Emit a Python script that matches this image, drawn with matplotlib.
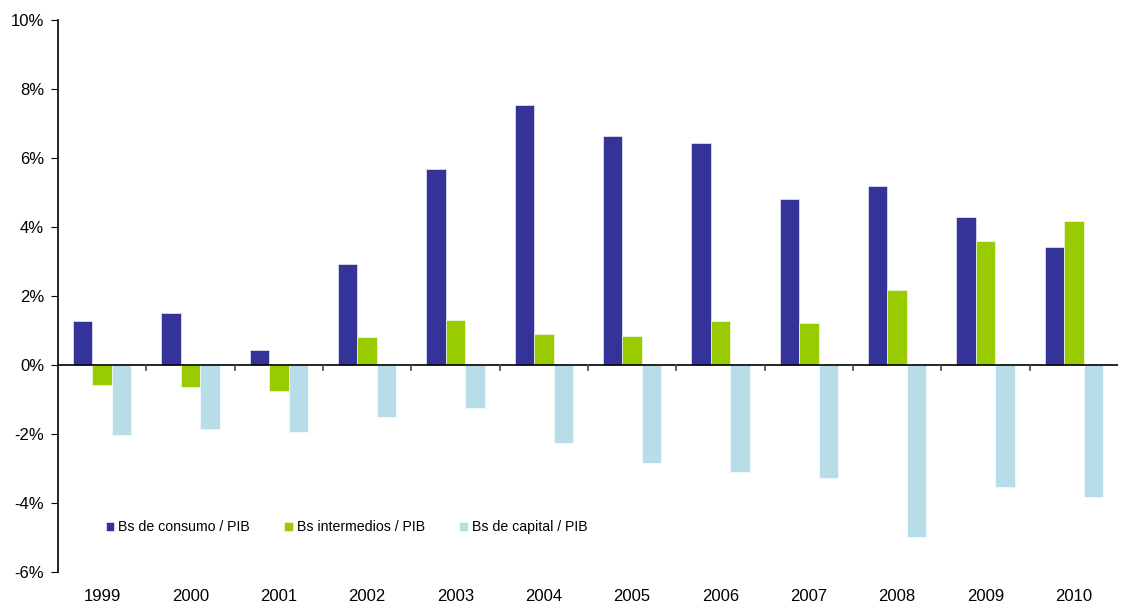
import numpy as np
import matplotlib.pyplot as plt
from matplotlib.ticker import FuncFormatter

plt.rcParams['font.family'] = ['Liberation Sans', 'DejaVu Sans']

years = ['1999', '2000', '2001', '2002', '2003', '2004', '2005', '2006', '2007', '2008', '2009', '2010']
consumo = [1.28, 1.51, 0.44, 2.94, 5.67, 7.53, 6.63, 6.42, 4.80, 5.20, 4.30, 3.43]
intermedios = [-0.58, -0.64, -0.76, 0.81, 1.31, 0.90, 0.84, 1.28, 1.22, 2.18, 3.58, 4.16]
capital = [-2.03, -1.86, -1.95, -1.51, -1.25, -2.27, -2.85, -3.11, -3.28, -5.00, -3.55, -3.84]

labels = ['Bs de consumo / PIB', 'Bs intermedios / PIB', 'Bs de capital / PIB']
colors = ['#333399', '#99CC00', '#B7DDE8']

fig = plt.figure(figsize=(11.22, 6.04), dpi=100)
ax = fig.add_axes([0.0517, 0.053, 0.9447, 0.914])

x = np.arange(len(years))
w = 0.22
for i, (vals, lab, c) in enumerate(zip([consumo, intermedios, capital], labels, colors)):
    ax.bar(x + (i - 1) * w, vals, w, color=c, label=lab, edgecolor='white', linewidth=0.4)

ax.set_xlim(-0.5, len(years) - 0.5)
ax.set_ylim(-6, 10)
ax.set_yticks(np.arange(-6, 11, 2))
ax.yaxis.set_major_formatter(FuncFormatter(lambda v, p: '%d%%' % v))
ax.tick_params(axis='y', direction='out', length=5, labelsize=12, pad=5)

# zero line with category separator ticks
ax.axhline(0, color='black', linewidth=1.2)
for b in np.arange(0.5, len(years) - 0.5, 1):
    ax.plot([b, b], [0, -0.15], color='#444444', linewidth=1.2)

ax.set_xticks(x)
ax.set_xticklabels(years, fontsize=12)
ax.tick_params(axis='x', length=0, pad=12)

for s in ['top', 'right', 'bottom']:
    ax.spines[s].set_visible(False)
ax.spines['left'].set_linewidth(1.2)

ax.legend(loc='lower left', bbox_to_anchor=(0.033, 0.045), ncol=3, frameon=False,
          fontsize=10.2, handlelength=0.6, handleheight=0.6, handletextpad=0.3, columnspacing=2.4)

plt.savefig('out.png', dpi=100)
